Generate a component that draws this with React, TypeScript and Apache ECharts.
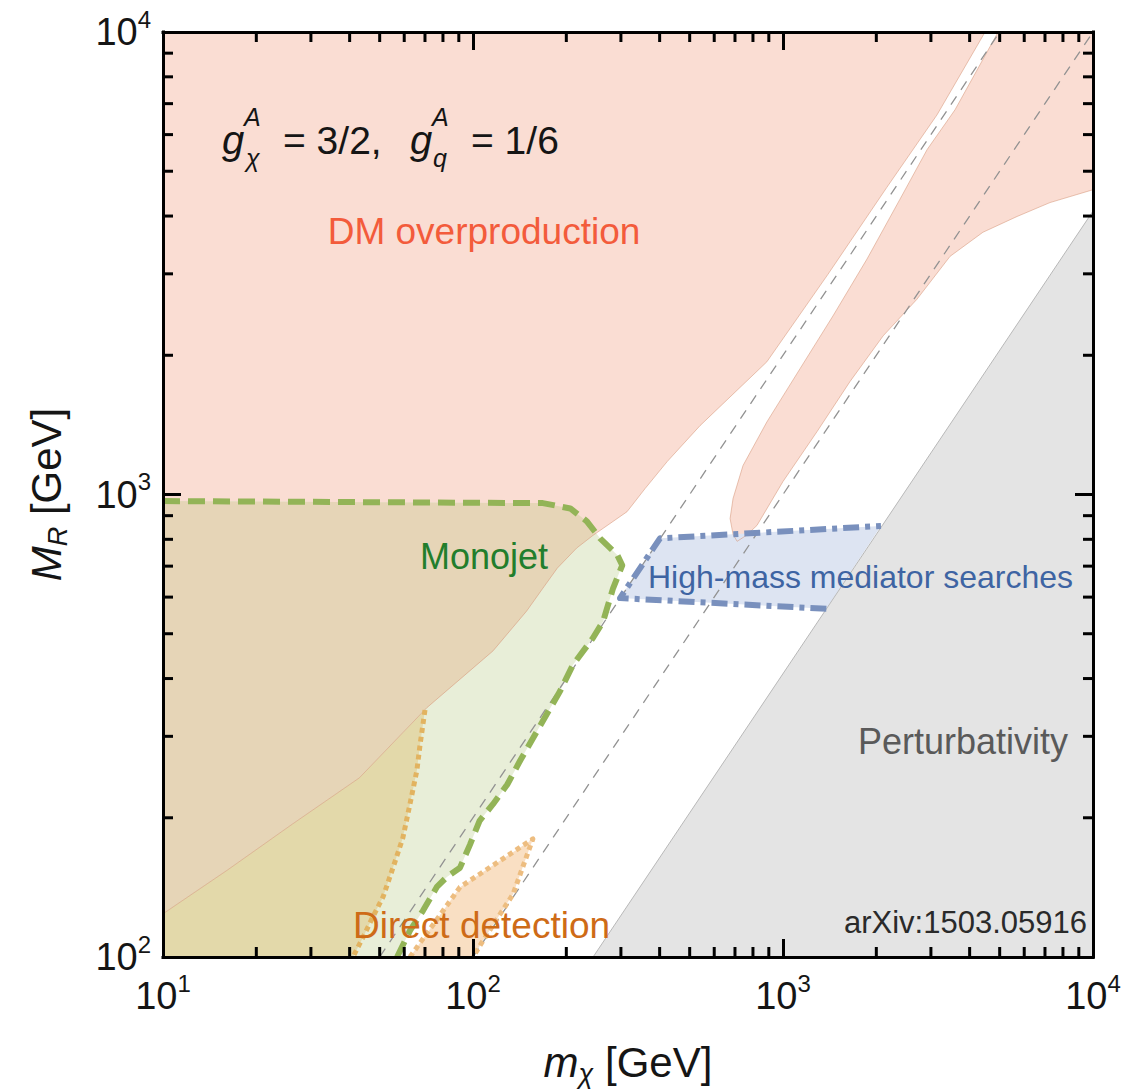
import React, { useEffect, useRef } from "react";
import * as echarts from "echarts";

type P = [number, number];

// axis extents (GeV)
const X_RANGE: P = [10, 10000];
const Y_RANGE: P = [100, 10000];

// minor tick values
const xMinorTicks = [20, 30, 40, 50, 60, 70, 80, 90, 200, 300, 400, 500, 600, 700, 800, 900, 2000, 3000, 4000, 5000, 6000, 7000, 8000, 9000];
const yMinorTicks = [200, 300, 400, 500, 600, 700, 800, 900, 2000, 3000, 4000, 5000, 6000, 7000, 8000, 9000];

// DM overproduction: boundary of the large region (left edge -> top edge)
const relicLeftEdge: P[] = [
  [10, 124], [16.1, 154], [26.2, 194], [43, 244], [71, 346], [116, 459], [149, 560], [168, 627],
  [187, 693], [216, 766], [244, 816], [314, 918], [359, 1030], [423, 1178], [540, 1409],
  [887, 1936], [1396, 2992], [2163, 4615], [3140, 6622], [4487, 10000],
];
// DM overproduction: finger between the resonance lines (top edge -> tip)
const relicFingerEdge: P[] = [
  [4943, 10000], [3589, 6790], [2918, 5572], [2382, 4345], [1866, 3229], [1449, 2432], [1135, 1871],
  [887, 1435], [743, 1155], [690, 980], [675, 887], [690, 820],
];
// DM overproduction: lower boundary of the right region (tip -> right edge)
const relicRightEdge: P[] = [
  [711, 792], [760, 815], [824, 857], [1000, 1067], [1288, 1368], [1644, 1754], [2104, 2203], [2704, 2643],
  [3459, 3273], [4415, 3690], [5689, 3991], [7261, 4277], [10000, 4560],
];
// Perturbativity bound
const perturbativityEdge: P[] = [[244, 100], [10000, 4100]];
// Monojet exclusion boundary
const monojetEdge: P[] = [
  [10, 968], [168, 958], [206, 933], [233, 875], [257, 804], [292, 740], [303, 703], [283, 627],
  [263, 532], [244, 490], [210, 428], [191, 376], [161, 308], [142, 266], [129, 236], [116, 214],
  [105, 197], [97.8, 175], [90.8, 156], [82.4, 149], [76.6, 142], [69, 126], [62.6, 114], [56.9, 100],
];
// Direct detection boundary (large region, top -> bottom)
const directDetectionEdge: P[] = [
  [70, 342], [67.5, 288], [65.9, 253], [62.6, 214], [59.4, 181], [55.2, 156], [51.3, 135],
  [47.5, 122], [44.1, 110], [41, 100],
];
// Direct detection small island
const directDetectionIsland: P[] = [
  [62.6, 100], [90.8, 141.6], [156, 180], [134.6, 136.7], [107, 107.7], [100, 100],
];
// High-mass mediator searches
const highMassEdge: P[] = [[1380, 566], [298, 597], [401, 804], [2070, 855]];
// Reference lines
const resonanceLine: P[] = [[50, 100], [5000, 10000]]; // M_R = 2 m_chi
const equalMassLine: P[] = [[100, 100], [10000, 10000]]; // M_R = m_chi

const FONT = "'Liberation Sans', Arial, Helvetica, sans-serif";

const lg = (p: P): P => [Math.log10(p[0]), Math.log10(p[1])];

function crossing(a: P[], b: P[]) {
  for (let i = 0; i < a.length - 1; i++) {
    const [x1, y1] = lg(a[i]);
    const [x2, y2] = lg(a[i + 1]);
    for (let j = 0; j < b.length - 1; j++) {
      const [x3, y3] = lg(b[j]);
      const [x4, y4] = lg(b[j + 1]);
      const d = (x2 - x1) * (y4 - y3) - (y2 - y1) * (x4 - x3);
      if (Math.abs(d) < 1e-12) continue;
      const t = ((x3 - x1) * (y4 - y3) - (y3 - y1) * (x4 - x3)) / d;
      const u = ((x3 - x1) * (y2 - y1) - (y3 - y1) * (x2 - x1)) / d;
      if (t >= 0 && t <= 1 && u >= 0 && u <= 1) {
        const pt: P = [Math.pow(10, x1 + t * (x2 - x1)), Math.pow(10, y1 + t * (y2 - y1))];
        return { i, j, pt };
      }
    }
  }
  return null;
}

function area(pts: P[], fill: string, z: number, stroke?: string) {
  return {
    type: "custom",
    coordinateSystem: "cartesian2d",
    xAxisIndex: 0,
    yAxisIndex: 0,
    silent: true,
    z,
    clip: true,
    data: [pts[0]],
    renderItem: (_p: any, api: any) => ({
      type: "polygon",
      shape: { points: pts.map((p) => api.coord(p)) },
      style: { fill, stroke: stroke || "none", lineWidth: stroke ? 1 : 0 },
    }),
  };
}

function curve(pts: P[], stroke: string, width: number, dash: number[] | null, z: number) {
  return {
    type: "custom",
    coordinateSystem: "cartesian2d",
    xAxisIndex: 0,
    yAxisIndex: 0,
    silent: true,
    z,
    clip: true,
    data: [pts[0]],
    renderItem: (_p: any, api: any) => ({
      type: "polyline",
      shape: { points: pts.map((p) => api.coord(p)) },
      style: { fill: "none", stroke, lineWidth: width, lineDash: dash || undefined, lineJoin: "round" },
    }),
  };
}

function refLine(pts: P[]) {
  return {
    type: "line",
    data: pts,
    symbol: "none",
    silent: true,
    z: 12,
    lineStyle: { color: "#929292", width: 1.3, type: [10, 8] },
  };
}

const MINOR = 10;

const supLabel = (v: number) => `{b|10}{s|${Math.round(Math.log10(v))}}`;
const labelRich = {
  b: { fontSize: 38, lineHeight: 50, color: "#151515", fontFamily: FONT },
  s: { fontSize: 24, lineHeight: 26, verticalAlign: "top", color: "#151515", fontFamily: FONT },
};

export default function App() {
  const ref = useRef<HTMLDivElement>(null);
  useEffect(() => {
    if (!ref.current) return;
    const chart = echarts.init(ref.current, undefined, { renderer: "svg" });

    const monojetArea: P[] = [...monojetEdge, [X_RANGE[0], Y_RANGE[0]]];
    const relicMain: P[] = [[X_RANGE[0], Y_RANGE[1]], ...relicLeftEdge];
    const relicRight: P[] = [...relicFingerEdge, ...relicRightEdge, [X_RANGE[1], Y_RANGE[1]]];
    const pertArea: P[] = [...perturbativityEdge, [X_RANGE[1], Y_RANGE[0]]];
    const cr = crossing(monojetEdge, relicLeftEdge);
    const overlapMonoRelic: P[] = cr
      ? [...monojetEdge.slice(0, cr.i + 1), cr.pt, ...relicLeftEdge.slice(0, cr.j + 1).reverse()]
      : [];
    const ddTop = directDetectionEdge[0][0];
    const overlapMonoDD: P[] = [
      [X_RANGE[0], Y_RANGE[0]],
      ...[...directDetectionEdge].reverse(),
      ...relicLeftEdge.filter((p) => p[0] < ddTop).reverse(),
    ];

    const axisCommon = {
      type: "log",
      logBase: 10,
      z: 30,
      splitLine: { show: false },
      axisLine: { show: true, onZero: false, lineStyle: { color: "#000", width: 3, cap: "square" } },
      axisTick: { show: true, inside: true, length: 18, lineStyle: { color: "#000", width: 3 } },
      minorTick: { show: false },
    };

    const nameRich = {
      i: { fontSize: 42, fontStyle: "italic", lineHeight: 50, color: "#151515", fontFamily: FONT },
      sub: { fontSize: 27, fontStyle: "italic", lineHeight: 24, verticalAlign: "bottom", color: "#151515", fontFamily: FONT },
      n: { fontSize: 42, lineHeight: 50, color: "#151515", fontFamily: FONT },
    };

    const option: any = {
      animation: false,
      textStyle: { fontFamily: FONT },
      grid: { left: 163, top: 32, width: 930, height: 928, containLabel: false },
      xAxis: [
        {
          ...axisCommon,
          min: X_RANGE[0],
          max: X_RANGE[1],
          position: "bottom",
          axisLabel: { margin: 14, formatter: supLabel, rich: labelRich },
          name: "{i|m}{sub|χ}{n| [GeV]}",
          nameLocation: "middle",
          nameGap: 80,
          nameTextStyle: { rich: nameRich },
        },
        {
          ...axisCommon,
          min: X_RANGE[0],
          max: X_RANGE[1],
          position: "top",
          axisLabel: { show: false },
        },
      ],
      yAxis: [
        {
          ...axisCommon,
          min: Y_RANGE[0],
          max: Y_RANGE[1],
          position: "left",
          axisLabel: { margin: 12, formatter: supLabel, rich: labelRich },
          name: "{i|M}{sub|R}{n| [GeV]}",
          nameLocation: "middle",
          nameGap: 92,
          nameTextStyle: { rich: nameRich },
        },
        {
          ...axisCommon,
          min: Y_RANGE[0],
          max: Y_RANGE[1],
          position: "right",
          axisLabel: { show: false },
        },
      ],
      series: [
        area(pertArea, "#E4E4E4", 2),
        area(relicMain, "#FADDD3", 3),
        area(relicRight, "#FADDD3", 3),
        area(monojetArea, "#E8EED8", 4),
        area(overlapMonoRelic, "#E6D5B7", 5),
        area(overlapMonoDD, "#E3D9AA", 5),
        area(directDetectionIsland, "#F9DFC3", 5),
        area(highMassEdge, "#DDE4F2", 6),
        curve(perturbativityEdge, "#B8B8B8", 1, null, 7),
        curve(relicLeftEdge, "rgba(214,150,120,0.55)", 1, null, 8),
        curve([...relicFingerEdge, ...relicRightEdge], "rgba(214,150,120,0.55)", 1, null, 8),
        refLine(resonanceLine),
        refLine(equalMassLine),
        curve(monojetEdge, "#93B457", 6, [17, 8], 14),
        curve(directDetectionEdge, "#E2B360", 5, [5, 4], 14),
        curve(directDetectionIsland, "#EDBD80", 5, [5, 4], 14),
        curve(highMassEdge, "#7990BD", 6, [16, 6, 5, 6], 14),
        {
          type: "custom",
          coordinateSystem: "cartesian2d",
          silent: true,
          clip: false,
          z: 20,
          data: xMinorTicks.map((v) => [v, Y_RANGE[0]]),
          renderItem: (_p: any, api: any) => {
            const v = api.value(0);
            const b = api.coord([v, Y_RANGE[0]]);
            const t = api.coord([v, Y_RANGE[1]]);
            return {
              type: "group",
              children: [
                { type: "line", shape: { x1: b[0], y1: b[1], x2: b[0], y2: b[1] - MINOR }, style: { stroke: "#000", lineWidth: 3 } },
                { type: "line", shape: { x1: t[0], y1: t[1], x2: t[0], y2: t[1] + MINOR }, style: { stroke: "#000", lineWidth: 3 } },
              ],
            };
          },
        },
        {
          type: "custom",
          coordinateSystem: "cartesian2d",
          silent: true,
          clip: false,
          z: 20,
          data: yMinorTicks.map((v) => [X_RANGE[0], v]),
          renderItem: (_p: any, api: any) => {
            const v = api.value(1);
            const l = api.coord([X_RANGE[0], v]);
            const r = api.coord([X_RANGE[1], v]);
            return {
              type: "group",
              children: [
                { type: "line", shape: { x1: l[0], y1: l[1], x2: l[0] + MINOR, y2: l[1] }, style: { stroke: "#000", lineWidth: 3 } },
                { type: "line", shape: { x1: r[0], y1: r[1], x2: r[0] - MINOR, y2: r[1] }, style: { stroke: "#000", lineWidth: 3 } },
              ],
            };
          },
        },
      ],
      graphic: [
        ...[
          { t: "g", x: 222, y: 140, s: 40, it: true },
          { t: "A", x: 244, y: 117, s: 25, it: true },
          { t: "χ", x: 246, y: 158, s: 25, it: true },
          { t: "= 3/2,", x: 283, y: 140, s: 39, it: false },
          { t: "g", x: 410, y: 140, s: 40, it: true },
          { t: "A", x: 432, y: 117, s: 25, it: true },
          { t: "q", x: 433, y: 158, s: 25, it: true },
          { t: "= 1/6", x: 471, y: 140, s: 39, it: false },
        ].map((e) => ({
          type: "text",
          x: e.x,
          y: e.y,
          z: 40,
          silent: true,
          style: {
            text: e.t,
            fontSize: e.s,
            fontFamily: FONT,
            fontStyle: e.it ? "italic" : "normal",
            fill: "#151515",
            textAlign: "left",
            textVerticalAlign: "middle",
            align: "left",
            verticalAlign: "middle",
          },
        })),
        ...[
          { t: "DM overproduction", x: 484, y: 231, s: 37, c: "#F35B3B", a: "center" },
          { t: "Monojet", x: 484, y: 556, s: 36, c: "#227E2C", a: "center" },
          { t: "High-mass mediator searches", x: 648, y: 577, s: 32, c: "#3E64A3", a: "left" },
          { t: "Perturbativity", x: 1068, y: 741, s: 36, c: "#5A5A5A", a: "right" },
          { t: "Direct detection", x: 353, y: 925, s: 37, c: "#CE6B17", a: "left" },
          { t: "arXiv:1503.05916", x: 1087, y: 922, s: 31, c: "#2A2A2A", a: "right" },
        ].map((e) => ({
          type: "text",
          x: e.x,
          y: e.y,
          z: 40,
          silent: true,
          style: {
            text: e.t,
            fontSize: e.s,
            fontFamily: FONT,
            fill: e.c,
            textAlign: e.a,
            textVerticalAlign: "middle",
            align: e.a,
            verticalAlign: "middle",
          },
        })),
      ],
    };

    chart.setOption(option);
    return () => chart.dispose();
  }, []);

  return (
    <div
      ref={ref}
      style={{ position: "absolute", left: 0, top: 0, width: 1135, height: 1092, background: "#fff" }}
    />
  );
}
